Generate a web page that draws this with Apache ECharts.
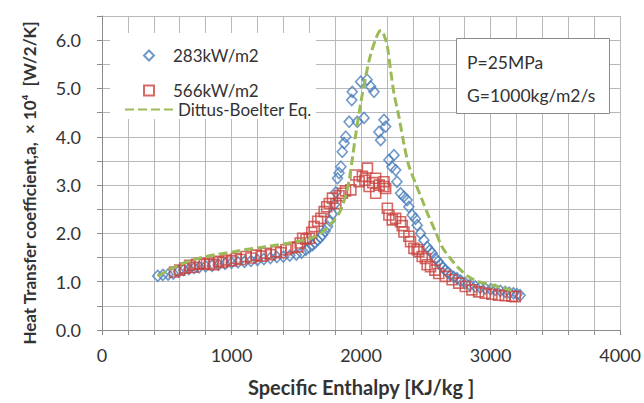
<!DOCTYPE html>
<html><head><meta charset="utf-8">
<script src="https://cdn.jsdelivr.net/npm/echarts@6/dist/echarts.min.js"></script>
<style>html,body{margin:0;padding:0;background:#fff}#c{width:644px;height:403px}</style>
</head><body><div id="c"></div>
<script>
// Data: [enthalpy kJ/kg, HTC x1e4]
const series283 = [[430,1.12],[470,1.14],[510,1.15],[550,1.17],[590,1.21],[630,1.24],[670,1.26],[710,1.28],[750,1.30],[800,1.32],[850,1.33],[900,1.35],[950,1.37],[1000,1.39],[1050,1.40],[1100,1.41],[1150,1.43],[1200,1.45],[1250,1.47],[1300,1.49],[1350,1.51],[1400,1.52],[1450,1.54],[1500,1.56],[1540,1.60],[1574,1.66],[1600,1.71],[1626,1.76],[1645,1.81],[1664,1.86],[1685,1.92],[1703,1.97],[1722,2.05],[1741,2.14],[1760,2.26],[1779,2.40],[1795,2.60],[1805,2.85],[1818,3.14],[1830,3.25],[1844,3.38],[1855,3.69],[1869,3.87],[1882,4.00],[1908,4.31],[1928,4.76],[1932,4.93],[1971,4.31],[1997,5.14],[2023,4.39],[2047,5.18],[2074,5.04],[2100,4.93],[2138,4.10],[2151,3.93],[2177,4.35],[2190,4.21],[2215,3.52],[2238,3.38],[2254,3.62],[2267,3.31],[2277,3.07],[2305,2.83],[2330,2.76],[2356,2.69],[2369,2.55],[2395,2.38],[2420,2.30],[2433,2.17],[2459,2.00],[2485,1.86],[2510,1.72],[2530,1.65],[2549,1.59],[2574,1.48],[2595,1.42],[2613,1.35],[2632,1.29],[2651,1.24],[2670,1.19],[2690,1.14],[2715,1.10],[2741,1.07],[2770,1.02],[2805,0.97],[2840,0.93],[2882,0.90],[2920,0.88],[2959,0.86],[3000,0.84],[3036,0.83],[3075,0.81],[3113,0.79],[3145,0.77],[3177,0.76],[3205,0.74],[3228,0.72]];
const series566 = [[560,1.20],[600,1.24],[640,1.28],[677,1.34],[703,1.30],[730,1.36],[754,1.38],[790,1.36],[831,1.38],[860,1.35],[900,1.42],[930,1.40],[959,1.45],[1000,1.43],[1036,1.48],[1070,1.46],[1113,1.52],[1150,1.49],[1190,1.55],[1230,1.53],[1267,1.59],[1300,1.56],[1344,1.62],[1380,1.60],[1420,1.66],[1460,1.70],[1510,1.72],[1530,1.80],[1549,1.90],[1575,1.88],[1600,1.90],[1620,2.02],[1638,2.14],[1665,2.25],[1690,2.31],[1715,2.45],[1735,2.55],[1755,2.62],[1779,2.73],[1805,2.62],[1830,2.78],[1856,2.83],[1880,2.88],[1921,2.90],[1959,3.21],[1985,3.07],[2010,3.18],[2030,3.10],[2049,3.35],[2062,2.97],[2090,3.05],[2113,3.14],[2113,2.83],[2140,3.00],[2177,3.07],[2177,2.97],[2190,2.93],[2203,2.52],[2215,2.38],[2241,2.28],[2267,2.31],[2305,2.24],[2318,2.16],[2331,2.03],[2369,1.94],[2382,1.83],[2408,1.69],[2433,1.66],[2446,1.62],[2472,1.52],[2497,1.48],[2510,1.35],[2536,1.31],[2570,1.24],[2600,1.17],[2651,1.11],[2703,1.04],[2754,0.97],[2805,0.90],[2856,0.83],[2908,0.79],[2959,0.76],[3010,0.74],[3062,0.72],[3113,0.71],[3164,0.70],[3190,0.69]];
const seriesDB = [[430,1.12],[500,1.22],[600,1.35],[700,1.45],[800,1.52],[900,1.57],[1000,1.61],[1100,1.66],[1200,1.70],[1300,1.74],[1400,1.78],[1500,1.83],[1574,1.87],[1620,1.91],[1664,1.96],[1710,2.05],[1754,2.16],[1800,2.30],[1831,2.42],[1860,2.60],[1882,2.80],[1908,3.10],[1933,3.55],[1959,4.05],[1997,4.69],[2036,5.25],[2074,5.70],[2113,6.02],[2140,6.18],[2155,6.20],[2175,6.12],[2203,5.87],[2228,5.38],[2254,4.90],[2292,4.42],[2331,3.85],[2369,3.40],[2420,3.04],[2472,2.69],[2523,2.35],[2574,2.04],[2626,1.72],[2690,1.48],[2754,1.28],[2831,1.10],[2908,1.00],[3010,0.93],[3113,0.86],[3177,0.80]];
const seriesNames = ['283kW/m2','566kW/m2','Dittus-Boelter Eq.'];
const xTickLabels = [0,1000,2000,3000,4000];
const yTickLabels = [0,1,2,3,4,5,6];
const xTitle = 'Specific Enthalpy [KJ/kg ]';
const yTitle = 'Heat Transfer coefficient,a,  × 10⁴  [W/2/K]';
const boxLines = ['P=25MPa','G=1000kg/m2/s'];

const FONT = 'Lato';
const GRID_C = '#b8b8b8', AXIS_C = '#8c8c8c', TXT = '#333';

const chart = echarts.init(document.getElementById('c'), null, {renderer: 'svg'});
chart.setOption({
  animation: false,
  backgroundColor: '#fff',
  textStyle: {fontFamily: FONT},
  grid: {left: 102, top: 16, right: 22, bottom: 73, containLabel: false},
  xAxis: {
    type: 'value', min: xTickLabels[0], max: xTickLabels[xTickLabels.length - 1], interval: 1000,
    name: xTitle, nameLocation: 'middle', nameGap: 47,
    nameTextStyle: {fontSize: 20, fontWeight: 'bold', color: TXT, fontFamily: FONT},
    axisLine: {show: true, lineStyle: {color: AXIS_C, width: 1}},
    axisTick: {show: true, length: 5, lineStyle: {color: AXIS_C}},
    minorTick: {show: true, splitNumber: 5, length: 5, lineStyle: {color: AXIS_C}},
    axisLabel: {fontSize: 18, color: TXT, margin: 16, fontFamily: FONT, formatter: v => String(v)},
    splitLine: {show: true, lineStyle: {color: GRID_C, width: 1}},
    minorSplitLine: {show: true, lineStyle: {color: GRID_C, width: 1}}
  },
  yAxis: {
    type: 'value', min: yTickLabels[0], max: 6.5, interval: 1,
    name: yTitle, nameLocation: 'middle', nameGap: 64, nameRotate: 90,
    nameTextStyle: {fontSize: 17, fontWeight: 'bold', color: TXT, fontFamily: FONT, padding: [0, 20, 0, 0]},
    axisLine: {show: true, lineStyle: {color: AXIS_C, width: 1}},
    axisTick: {show: true, length: 5, lineStyle: {color: AXIS_C}},
    minorTick: {show: true, splitNumber: 2, length: 5, lineStyle: {color: AXIS_C}},
    axisLabel: {fontSize: 18, color: TXT, margin: 21, fontFamily: FONT,
      formatter: v => yTickLabels.includes(v) ? v.toFixed(1) : ''},
    splitLine: {show: true, lineStyle: {color: GRID_C, width: 1}},
    minorSplitLine: {show: true, lineStyle: {color: GRID_C, width: 1}}
  },
  legend: [{
    orient: 'vertical', left: 143, top: 47, padding: 0,
    itemGap: 18, itemWidth: 10, itemHeight: 10,
    formatter: n => '{a|' + n + '}',
    textStyle: {rich: {a: {fontSize: 17, color: TXT, fontFamily: FONT, padding: [0,0,0,14]}}},
    data: [seriesNames[0], seriesNames[1]]
  }, {
    orient: 'vertical', left: 124, top: 101, padding: 0,
    itemWidth: 50, itemHeight: 14,
    textStyle: {fontSize: 17, color: TXT, fontFamily: FONT, padding: [0,0,0,-2]},
    data: [{name: seriesNames[2], itemStyle: {opacity: 0}}]
  }],
  graphic: [
    {type: 'rect', left: 110, top: 33, z: 2, shape: {width: 206, height: 86},
     style: {fill: '#fff', stroke: null}},
    {type: 'rect', left: 456, top: 38, z: 100, shape: {width: 153, height: 75},
     style: {fill: '#fff', stroke: '#8a8a8a', lineWidth: 1}},
    {type: 'text', left: 467, top: 53, z: 101, style: {text: boxLines[0], fontSize: 17.5, fontFamily: FONT, fill: TXT}},
    {type: 'text', left: 467, top: 86, z: 101, style: {text: boxLines[1], fontSize: 17.5, fontFamily: FONT, fill: TXT}}
  ],
  series: [
    {name: seriesNames[0], type: 'scatter', data: series283, symbol: 'diamond', symbolSize: [10, 11],
     itemStyle: {color: 'rgba(255,255,255,0)', borderColor: '#4a7ebb', borderWidth: 1.6}, z: 3},
    {name: seriesNames[1], type: 'scatter', data: series566, symbol: 'rect', symbolSize: 10,
     itemStyle: {color: 'rgba(255,255,255,0)', borderColor: '#c9443f', borderWidth: 1.6}, z: 4},
    {name: seriesNames[2], type: 'line', data: seriesDB, symbol: 'none', smooth: 0.3,
     lineStyle: {color: '#9bbb59', width: 3, type: [9, 4]},
     itemStyle: {color: '#9bbb59'}, z: 5}
  ]
});
</script></body></html>
